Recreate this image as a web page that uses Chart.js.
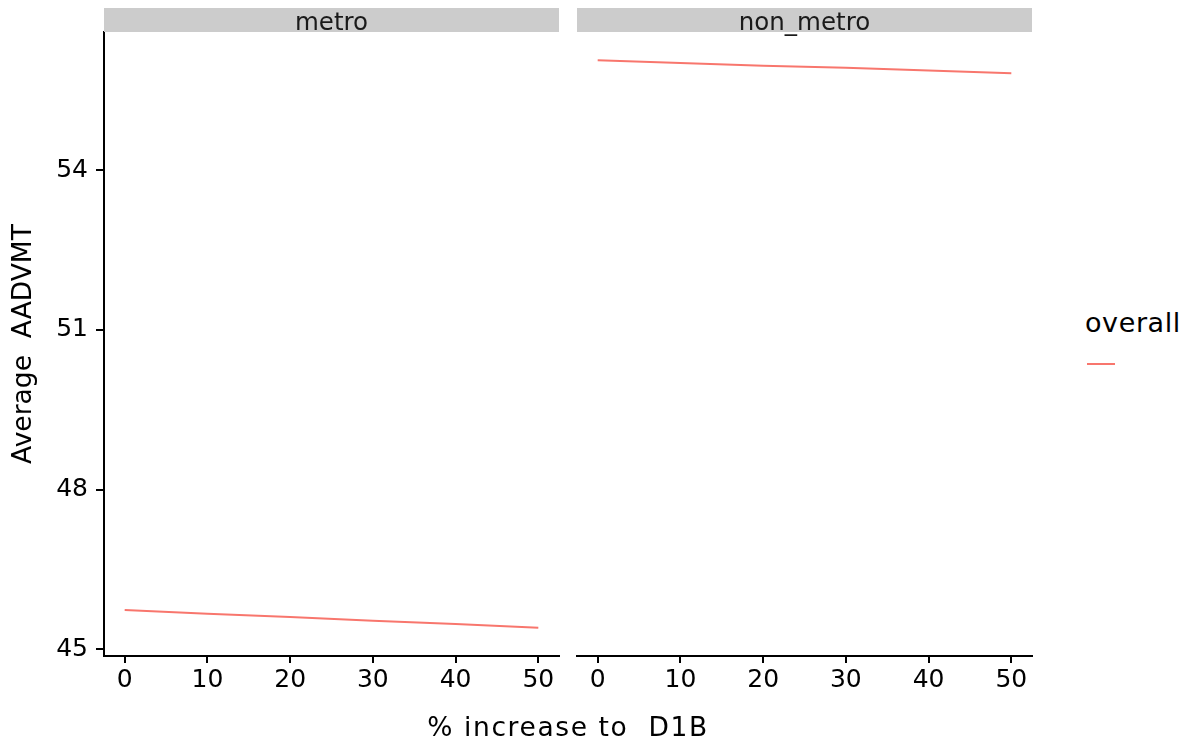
<!DOCTYPE html>
<html>
<head>
<meta charset="utf-8"/>
<script src="https://cdn.jsdelivr.net/npm/chart.js@4.4.1/dist/chart.umd.min.js"></script>
<style>
  body { margin: 0; background: #fff; font-family: "DejaVu Sans", sans-serif; }
  #page { position: relative; width: 1191px; height: 740px; overflow: hidden; }
  .panel { position: absolute; top: 0; height: 740px; }
  .strip { position: absolute; top: 8px; width: 455px; height: 24px; background: #cccccc;
           color: #1a1a1a; font-size: 24.5px; line-height: 27px; text-align: center; white-space: pre; }
  #xtitle { position: absolute; left: 104px; width: 928px; top: 714px; font-size: 26.5px; line-height: 26.5px;
            text-align: center; white-space: pre; color: #000; letter-spacing: 1.6px; }
  #legtitle { position: absolute; left: 1085px; top: 309px; font-size: 27px; line-height: 27px; color: #000; letter-spacing: 0.6px; }
  #legkey { position: absolute; left: 1087px; top: 363px; width: 28px; height: 2px; }
</style>
</head>
<body>
<div id="page">
  <div class="panel" style="left:0; width:568px;"><canvas id="metro"></canvas></div>
  <div class="panel" style="left:568px; width:470px;"><canvas id="non_metro"></canvas></div>
  <div class="strip" id="strip0" style="left:104px;"></div>
  <div class="strip" id="strip1" style="left:577px;"></div>
  <div id="xtitle"></div>
  <div id="legtitle"></div>
  <div id="legkey"></div>
</div>
<script>
// facet names and data
var facets = ['metro', 'non_metro'];
var pctIncrease = [0, 10, 20, 30, 40, 50];
var metroVals = [45.74, 45.67, 45.61, 45.54, 45.48, 45.41];
var nonMetroVals = [56.06, 56.01, 55.96, 55.92, 55.87, 55.82];
var xTicks = [0, 10, 20, 30, 40, 50];
var yTicks = [45, 48, 51, 54];
var seriesName = 'overall';
var xTitle = '% increase to  D1B';
var yTitle = 'Average  AADVMT';
var lineColor = '#F8766D';

var fontFam = '"DejaVu Sans", sans-serif';

// ggplot style 5% expansion, shared y across facets
function expand(lo, hi) {
  var d = (hi - lo) * 0.05;
  return [lo - d, hi + d];
}
var allY = metroVals.concat(nonMetroVals);
var yRange = expand(Math.min.apply(null, allY), Math.max.apply(null, allY));
var xRange = expand(Math.min.apply(null, pctIncrease), Math.max.apply(null, pctIncrease));

document.getElementById('strip0').textContent = facets[0];
document.getElementById('strip1').textContent = facets[1];
document.getElementById('xtitle').textContent = xTitle;
document.getElementById('legtitle').textContent = seriesName;
document.getElementById('legkey').style.background = lineColor;

function makePanel(id, values, showY, pad) {
  var yScale = {
    display: showY,
    min: yRange[0], max: yRange[1],
    afterBuildTicks: function(s) { s.ticks = yTicks.map(function(v) { return {value: v}; }); },
    grid: { drawOnChartArea: false, drawTicks: true, tickLength: 8, color: '#000', lineWidth: 2 },
    border: { display: true, color: '#000', width: 2 },
    ticks: { color: '#000', font: { family: fontFam, size: 25 }, padding: 8 },
    title: { display: true, text: yTitle, color: '#000', font: { family: fontFam, size: 26.5 }, padding: { top: 8, bottom: 0 } }
  };
  if (showY) {
    yScale.afterFit = function(s) { s.width = 104; };
  }
  return new Chart(document.getElementById(id), {
    type: 'line',
    data: {
      datasets: [{
        label: seriesName,
        data: pctIncrease.map(function(x, i) { return {x: x, y: values[i]}; }),
        borderColor: lineColor,
        borderWidth: 2,
        pointRadius: 0,
        fill: false,
        tension: 0
      }]
    },
    options: {
      responsive: true,
      maintainAspectRatio: false,
      animation: false,
      devicePixelRatio: 1,
      layout: { padding: pad },
      plugins: { legend: { display: false }, tooltip: { enabled: false } },
      scales: {
        x: {
          type: 'linear',
          min: xRange[0], max: xRange[1],
          afterBuildTicks: function(s) { s.ticks = xTicks.map(function(v) { return {value: v}; }); },
          afterFit: function(s) { s.height = 50; },
          grid: { drawOnChartArea: false, drawTicks: true, tickLength: 7, color: '#000', lineWidth: 2 },
          border: { display: true, color: '#000', width: 2 },
          ticks: { color: '#000', font: { family: fontFam, size: 25 }, padding: 2, maxRotation: 0, autoSkip: false }
        },
        y: yScale
      }
    }
  });
}

makePanel('metro', metroVals, true, { top: 32, right: 9, bottom: 34, left: 0 });
makePanel('non_metro', nonMetroVals, false, { top: 32, right: 6, bottom: 34, left: 9 });
</script>
</body>
</html>
